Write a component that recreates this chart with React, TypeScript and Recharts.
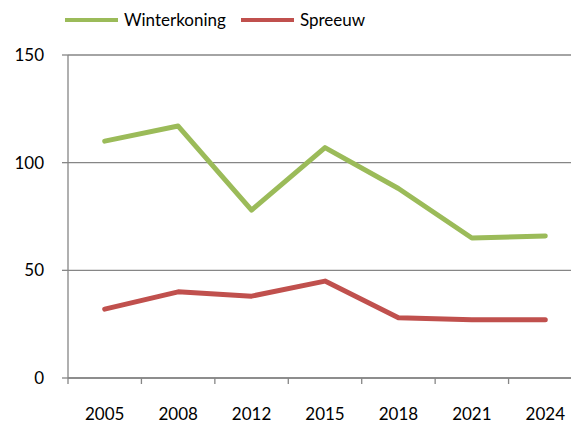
import React from "react";
import {
  LineChart,
  Line,
  XAxis,
  YAxis,
  CartesianGrid,
} from "recharts";

const YEARS = ["2005", "2008", "2012", "2015", "2018", "2021", "2024"];
const WINTERKONING = [110, 117, 78, 107, 88, 65, 66];
const SPREEUW = [32, 40, 38, 45, 28, 27, 27];
const Y_TICKS = [0, 50, 100, 150];

const GREEN = "#9bbb59";
const RED = "#c0504d";
const GRAY = "#868686";
const FONT = "Lato, 'Open Sans', sans-serif";

const data = YEARS.map((year, i) => ({
  year,
  x: i + 0.5,
  winterkoning: WINTERKONING[i],
  spreeuw: SPREEUW[i],
}));

const boundaryTicks = YEARS.map((_, i) => i).concat(YEARS.length);
const centerTicks = YEARS.map((_, i) => i + 0.5);

function LegendItem({ color, label }: { color: string; label: string }) {
  return (
    <div style={{ display: "flex", alignItems: "center", marginRight: 15 }}>
      <span
        style={{
          display: "inline-block",
          width: 53,
          height: 4,
          background: color,
          marginRight: 6,
        }}
      />
      <span>{label}</span>
    </div>
  );
}

// no label, only the tick line between categories
function EmptyTick() {
  return <g />;
}

export default function App() {
  return (
    <div
      style={{
        position: "fixed",
        left: 0,
        top: 0,
        width: 571,
        height: 424,
        overflow: "hidden",
        background: "#fff",
        fontFamily: FONT,
      }}
    >
      {/* Legend */}
      <div
        style={{
          position: "absolute",
          left: 65,
          top: 8,
          display: "flex",
          fontSize: 17,
          color: "#000",
          lineHeight: "24px",
        }}
      >
        <LegendItem color={GREEN} label="Winterkoning" />
        <LegendItem color={RED} label="Spreeuw" />
      </div>

      <LineChart
        width={600}
        height={424}
        data={data}
        margin={{ top: 55, right: 18, bottom: 0, left: 0 }}
      >
        <CartesianGrid
          horizontal
          vertical={false}
          stroke={GRAY}
          strokeWidth={1.3}
          yAxisId="y"
          xAxisId="a_marks"
        />
        <XAxis
          xAxisId="a_marks"
          type="number"
          dataKey="x"
          domain={[0, YEARS.length]}
          ticks={boundaryTicks}
          interval={0}
          height={8}
          tickSize={6}
          tick={<EmptyTick />}
          axisLine={{ stroke: GRAY, strokeWidth: 1.3 }}
          tickLine={{ stroke: GRAY, strokeWidth: 1.3 }}
        />
        <XAxis
          xAxisId="b_labels"
          type="number"
          dataKey="x"
          domain={[0, YEARS.length]}
          ticks={centerTicks}
          interval={0}
          height={38}
          tickSize={0}
          tickMargin={22}
          axisLine={false}
          tickLine={false}
          tickFormatter={(v: number) => YEARS[Math.floor(v)]}
          tick={{ fill: "#000", fontSize: 17, fontFamily: FONT }}
        />
        <YAxis
          yAxisId="y"
          type="number"
          domain={[0, 150]}
          ticks={Y_TICKS}
          interval={0}
          width={68}
          tickSize={6}
          tickMargin={18}
          axisLine={{ stroke: GRAY, strokeWidth: 1.3 }}
          tickLine={{ stroke: GRAY, strokeWidth: 1.3 }}
          tick={{ fill: "#000", fontSize: 17, fontFamily: FONT }}
        />
        <Line
          xAxisId="a_marks"
          yAxisId="y"
          type="linear"
          dataKey="winterkoning"
          stroke={GREEN}
          strokeWidth={5}
          strokeLinecap="round"
          strokeLinejoin="round"
          dot={false}
          isAnimationActive={false}
        />
        <Line
          xAxisId="a_marks"
          yAxisId="y"
          type="linear"
          dataKey="spreeuw"
          stroke={RED}
          strokeWidth={5}
          strokeLinecap="round"
          strokeLinejoin="round"
          dot={false}
          isAnimationActive={false}
        />
      </LineChart>
    </div>
  );
}
